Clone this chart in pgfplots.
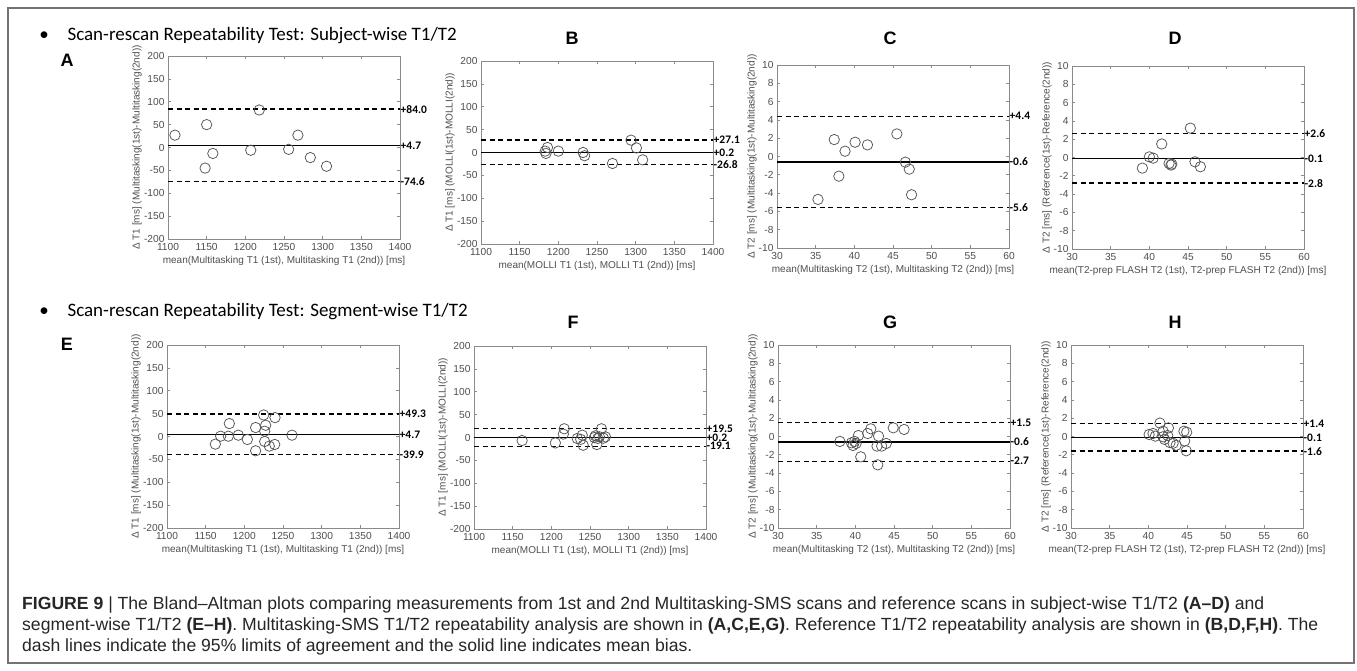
\documentclass[border=0pt]{standalone}
\usepackage{fontspec}
\setmainfont{Liberation Sans}
\newfontfamily\calibri{Carlito}
\usepackage{pgfplots}
\pgfplotsset{compat=1.18}

\definecolor{boxgray}{HTML}{8A8A8A}
\definecolor{tickgray}{HTML}{505050}
\definecolor{dotgray}{HTML}{555555}

\pgfplotsset{
  ba/.style={
    scale only axis, width=232pt, height=183pt, clip=false,
    axis line style={boxgray, line width=0.9pt},
    xticklabel pos=lower, yticklabel pos=left, tick pos=both,
    tick align=inside, major tick length=3pt,
    tick style={boxgray, line width=0.7pt},
    ticklabel style={font=\fontsize{10.2}{10}\selectfont, text=tickgray},
    xticklabel style={yshift=-0.5pt},
    /pgf/number format/1000 sep={},
    /pgf/number format/assume math mode=true,
    every axis x label/.style={at={(rel axis cs:0.5,0)}, anchor=center, yshift=-22pt,
      font=\fontsize{10}{10}\selectfont, text=tickgray},
  },
  ylab/.style={every axis y label/.style={at={(rel axis cs:0,0.5)}, xshift=-#1, rotate=90,
      anchor=center, font=\fontsize{10}{10}\selectfont, text=tickgray}},
  t1/.style={ba, xmin=1100, xmax=1400, ymin=-200, ymax=200,
    xtick={1100,1150,...,1400}, ytick={-200,-150,...,200}, ylab=31pt},
  t2/.style={ba, xmin=30, xmax=60, ymin=-10, ymax=10,
    xtick={30,35,...,60}, ytick={-10,-8,...,10}, ylab=25pt},
  pts/.style={only marks, mark=o, mark size=5.2pt, mark options={dotgray, line width=0.75pt}},
  mline/.style={black, line width=1.3pt, no marks},
  dline/.style={black, line width=1.3pt, no marks, dash pattern=on 5pt off 3.5pt},
}
\tikzset{lab/.style={anchor=west, inner sep=0.5pt, font=\calibri\bfseries\fontsize{11.5}{12}\selectfont}}

\begin{document}
\begin{tikzpicture}
\useasboundingbox (0,0) rectangle (1357pt,-670pt);
\fill[white] (0,0) rectangle (1357pt,-670pt);
\draw[black!55, line width=1.5pt] (8pt,-8pt) rectangle (1354pt,-663pt);

% section headers
\node[anchor=base, font=\calibri\fontsize{19}{23}\selectfont] at (44pt,-40pt) {•};
\node[anchor=base west, font=\calibri\fontsize{19}{23}\selectfont] at (64pt,-40pt)
  {Scan-rescan Repeatability Test: Subject-wise T1/T2};
\node[anchor=base, font=\calibri\fontsize{19}{23}\selectfont] at (44pt,-316pt) {•};
\node[anchor=base west, font=\calibri\fontsize{19}{23}\selectfont] at (64pt,-316pt)
  {Scan-rescan Repeatability Test: Segment-wise T1/T2};

% panel letters
\foreach \l/\x/\y in {A/67/60, B/572/38, C/890/38, D/1175/38, E/67/344, F/573/322, G/890/322, H/1175/322}
  \node[font=\bfseries\fontsize{18}{20}\selectfont] at (\x pt,-\y pt) {\l};

% A
\begin{axis}[t1, at={(168pt,-239pt)}, anchor=south west,
  xlabel={mean(Multitasking T1 (1st), Multitasking T1 (2nd)) [ms]},
  ylabel={Δ T1 [ms] (Multitasking(1st)-Multitasking(2nd))}]
\addplot[dline] coordinates {(1100,84.0) (1400,84.0)};
\addplot[mline] coordinates {(1100,4.7) (1400,4.7)};
\addplot[dline] coordinates {(1100,-74.6) (1400,-74.6)};
\addplot[pts] coordinates {
  (1109,27) (1150,50) (1158,-13) (1148,-45) (1207,-6)
  (1218,82) (1256,-4) (1268,27) (1284,-22) (1305,-41)};
\node[lab] at (axis cs:1400,84.0) {+84.0};
\node[lab] at (axis cs:1400,4.7) {+4.7};
\node[lab] at (axis cs:1400,-74.6) {-74.6};
\end{axis}

% B
\begin{axis}[t1, at={(481pt,-244pt)}, anchor=south west,
  xlabel={mean(MOLLI T1 (1st), MOLLI T1 (2nd)) [ms]},
  ylabel={Δ T1 [ms] (MOLLI(1st)-MOLLI(2nd))}]
\addplot[dline] coordinates {(1100,27.1) (1400,27.1)};
\addplot[mline] coordinates {(1100,0.2) (1400,0.2)};
\addplot[dline] coordinates {(1100,-26.8) (1400,-26.8)};
\addplot[pts] coordinates {
  (1183,3) (1186,11) (1184,-2) (1200,3) (1232,0)
  (1234,-7) (1270,-24) (1294,27) (1301,10) (1309,-16)};
\node[lab] at (axis cs:1400,27.1) {+27.1};
\node[lab] at (axis cs:1400,0.2) {+0.2};
\node[lab] at (axis cs:1400,-26.8) {-26.8};
\end{axis}

% C
\begin{axis}[t2, at={(777pt,-248pt)}, anchor=south west,
  xlabel={mean(Multitasking T2 (1st), Multitasking T2 (2nd)) [ms]},
  ylabel={Δ T2 [ms] (Multitasking(1st)-Multitasking(2nd))}]
\addplot[dline] coordinates {(30,4.4) (60,4.4)};
\addplot[mline] coordinates {(30,-0.6) (60,-0.6)};
\addplot[dline] coordinates {(30,-5.6) (60,-5.6)};
\addplot[pts] coordinates {
  (37.4,1.85) (38.8,0.58) (40.1,1.56) (41.7,1.27) (38.0,-2.15)
  (35.3,-4.69) (45.5,2.47) (46.6,-0.62) (47.1,-1.38) (47.4,-4.18)};
\node[lab] at (axis cs:60,4.4) {+4.4};
\node[lab] at (axis cs:60,-0.6) {-0.6};
\node[lab] at (axis cs:60,-5.6) {-5.6};
\end{axis}

% D
\begin{axis}[t2, at={(1072pt,-249pt)}, anchor=south west,
  xlabel={mean(T2-prep FLASH T2 (1st), T2-prep FLASH T2 (2nd)) [ms]},
  ylabel={Δ T2 [ms] (Reference(1st)-Reference(2nd))}]
\addplot[dline] coordinates {(30,2.6) (60,2.6)};
\addplot[mline] coordinates {(30,-0.1) (60,-0.1)};
\addplot[dline] coordinates {(30,-2.8) (60,-2.8)};
\addplot[pts] coordinates {
  (39.1,-1.16) (40.0,0.07) (40.5,-0.07) (41.6,1.48) (42.55,-0.65)
  (42.8,-0.83) (42.9,-0.72) (45.3,3.21) (45.9,-0.47) (46.6,-1.01)};
\node[lab] at (axis cs:60,2.6) {+2.6};
\node[lab] at (axis cs:60,-0.1) {-0.1};
\node[lab] at (axis cs:60,-2.8) {-2.8};
\end{axis}

% E
\begin{axis}[t1, at={(167pt,-528pt)}, anchor=south west,
  xlabel={mean(Multitasking T1 (1st), Multitasking T1 (2nd)) [ms]},
  ylabel={Δ T1 [ms] (Multitasking(1st)-Multitasking(2nd))}]
\addplot[dline] coordinates {(1100,49.3) (1400,49.3)};
\addplot[mline] coordinates {(1100,4.7) (1400,4.7)};
\addplot[dline] coordinates {(1100,-39.9) (1400,-39.9)};
\addplot[pts] coordinates {
  (1162.5,-16.7) (1169.4,0.7) (1179.3,0.7) (1180.6,28.3) (1192.2,2.9)
  (1203.9,-6.5) (1214.6,19.6) (1214.6,-31.2) (1225,47.1) (1227.6,24.6)
  (1226.3,11.6) (1226.3,-10.9) (1232.3,-21) (1239.3,-17.4) (1239.7,41.3)
  (1261.6,2.9)};
\node[lab] at (axis cs:1400,49.3) {+49.3};
\node[lab] at (axis cs:1400,4.7) {+4.7};
\node[lab] at (axis cs:1400,-39.9) {-39.9};
\end{axis}

% F
\begin{axis}[t1, at={(474pt,-529pt)}, anchor=south west,
  xlabel={mean(MOLLI T1 (1st), MOLLI T1 (2nd)) [ms]},
  ylabel={Δ T1 [ms] (MOLLI(1st)-MOLLI(2nd))}]
\addplot[dline] coordinates {(1100,19.5) (1400,19.5)};
\addplot[mline] coordinates {(1100,0.2) (1400,0.2)};
\addplot[dline] coordinates {(1100,-19.1) (1400,-19.1)};
\addplot[pts] coordinates {
  (1162.2,-6.6) (1205.2,-11.8) (1216.7,19.1) (1215.5,7.4) (1233.5,-2.2)
  (1240,5.1) (1241.2,-16.9) (1238,-4) (1257,3.7) (1258.8,-15.4)
  (1264.8,19.1) (1262.2,1.5) (1267.4,-1.5) (1260,-2) (1255.6,0)
  (1270,1.5)};
\node[lab] at (axis cs:1400,19.5) {+19.5};
\node[lab] at (axis cs:1400,0.2) {+0.2};
\node[lab] at (axis cs:1400,-19.1) {-19.1};
\end{axis}

% G
\begin{axis}[t2, at={(778pt,-528pt)}, anchor=south west,
  xlabel={mean(Multitasking T2 (1st), Multitasking T2 (2nd)) [ms]},
  ylabel={Δ T2 [ms] (Multitasking(1st)-Multitasking(2nd))}]
\addplot[dline] coordinates {(30,1.5) (60,1.5)};
\addplot[mline] coordinates {(30,-0.6) (60,-0.6)};
\addplot[dline] coordinates {(30,-2.7) (60,-2.7)};
\addplot[pts] coordinates {
  (38.0,-0.54) (39.5,-0.69) (39.7,-0.98) (39.9,-0.54) (40.1,-0.76)
  (40.4,0.11) (40.7,-2.22) (41.6,0.33) (42.0,0.84) (43.0,0.04)
  (42.8,-1.05) (43.4,-1.05) (44.0,-0.76) (42.9,-3.1) (44.9,0.95)
  (46.3,0.77)};
\node[lab] at (axis cs:60,1.5) {+1.5};
\node[lab] at (axis cs:60,-0.6) {-0.6};
\node[lab] at (axis cs:60,-2.7) {-2.7};
\end{axis}

% H
\begin{axis}[t2, at={(1071pt,-528pt)}, anchor=south west,
  xlabel={mean(T2-prep FLASH T2 (1st), T2-prep FLASH T2 (2nd)) [ms]},
  ylabel={Δ T2 [ms] (Reference(1st)-Reference(2nd))}]
\addplot[dline] coordinates {(30,1.4) (60,1.4)};
\addplot[mline] coordinates {(30,-0.1) (60,-0.1)};
\addplot[dline] coordinates {(30,-1.6) (60,-1.6)};
\addplot[pts] coordinates {
  (40.1,0.22) (40.6,0.33) (40.9,0.04) (41.5,1.47) (41.9,-0.03)
  (42.1,-0.31) (41.9,0.58) (42.6,0.94) (42.5,0.11) (42.8,-0.67)
  (43.2,-0.74) (43.6,-0.96) (44.6,0.58) (44.96,0.47) (44.7,-0.49)
  (44.9,-1.56)};
\node[lab] at (axis cs:60,1.4) {+1.4};
\node[lab] at (axis cs:60,-0.1) {-0.1};
\node[lab] at (axis cs:60,-1.6) {-1.6};
\end{axis}

% caption
\begin{scope}[every node/.style={anchor=base west, inner sep=0pt, text=black!85,
    font=\fontsize{17.6}{21}\selectfont}]
\node at (22pt,-609pt) {\textbf{FIGURE 9} | The Bland–Altman plots comparing measurements from 1st and 2nd Multitasking-SMS scans and reference scans in subject-wise T1/T2 \textbf{(A–D)} and};
\node at (22pt,-630pt) {segment-wise T1/T2 \textbf{(E–H)}. Multitasking-SMS T1/T2 repeatability analysis are shown in \textbf{(A,C,E,G)}. Reference T1/T2 repeatability analysis are shown in \textbf{(B,D,F,H)}. The};
\node at (22pt,-651pt) {dash lines indicate the 95\% limits of agreement and the solid line indicates mean bias.};
\end{scope}
\end{tikzpicture}
\end{document}
